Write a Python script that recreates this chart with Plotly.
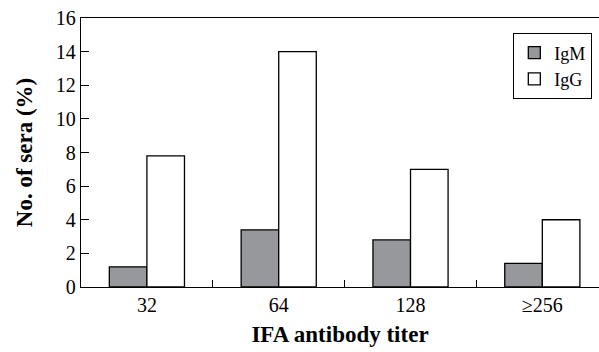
import plotly.graph_objects as go

categories = ["32", "64", "128", "≥256"]
igm = [1.2, 3.4, 2.8, 1.4]
igg = [7.8, 14.0, 7.0, 4.0]
y_ticks = [0, 2, 4, 6, 8, 10, 12, 14, 16]

font = "Liberation Serif, Times New Roman, serif"

fig = go.Figure()
fig.add_trace(go.Bar(x=categories, y=igm, name="IgM",
                     marker=dict(color="#96989b", line=dict(color="black", width=1.3))))
fig.add_trace(go.Bar(x=categories, y=igg, name="IgG",
                     marker=dict(color="white", line=dict(color="black", width=1.3))))

fig.update_layout(
    width=599, height=352,
    margin=dict(l=81, r=0, t=18, b=65),
    paper_bgcolor="white", plot_bgcolor="white",
    barmode="group", bargap=0.43, bargroupgap=0,
    font=dict(family=font, size=20, color="black"),
    showlegend=True,
    legend=dict(x=0.9865, y=0.944, xanchor="right", yanchor="top",
                bordercolor="black", borderwidth=1.3, bgcolor="white",
                font=dict(family=font, size=18), itemwidth=30,
                traceorder="normal", tracegroupgap=0),
)
fig.update_xaxes(
    type="category", range=[-0.5, 3.43],
    showline=True, linecolor="black", linewidth=1.3, mirror=True,
    ticks="inside", tickson="boundaries", ticklen=7, tickcolor="black", tickwidth=1.3,
    tickfont=dict(family=font, size=20),
    showgrid=False, zeroline=False,
    title=dict(text="<b>IFA antibody titer</b>", font=dict(family=font, size=23), standoff=10),
)
fig.update_yaxes(
    range=[0, 16], tickvals=y_ticks,
    showline=True, linecolor="black", linewidth=1.3, mirror=False,
    ticks="inside", ticklen=8, tickcolor="black", tickwidth=1.3,
    tickfont=dict(family=font, size=20),
    showgrid=False, zeroline=False,
    title=dict(text="<b>No. of sera (%)</b>", font=dict(family=font, size=23), standoff=16),
)

fig.write_html("out.html", config={"displayModeBar": False},
               post_script="document.body.style.margin='0';")
